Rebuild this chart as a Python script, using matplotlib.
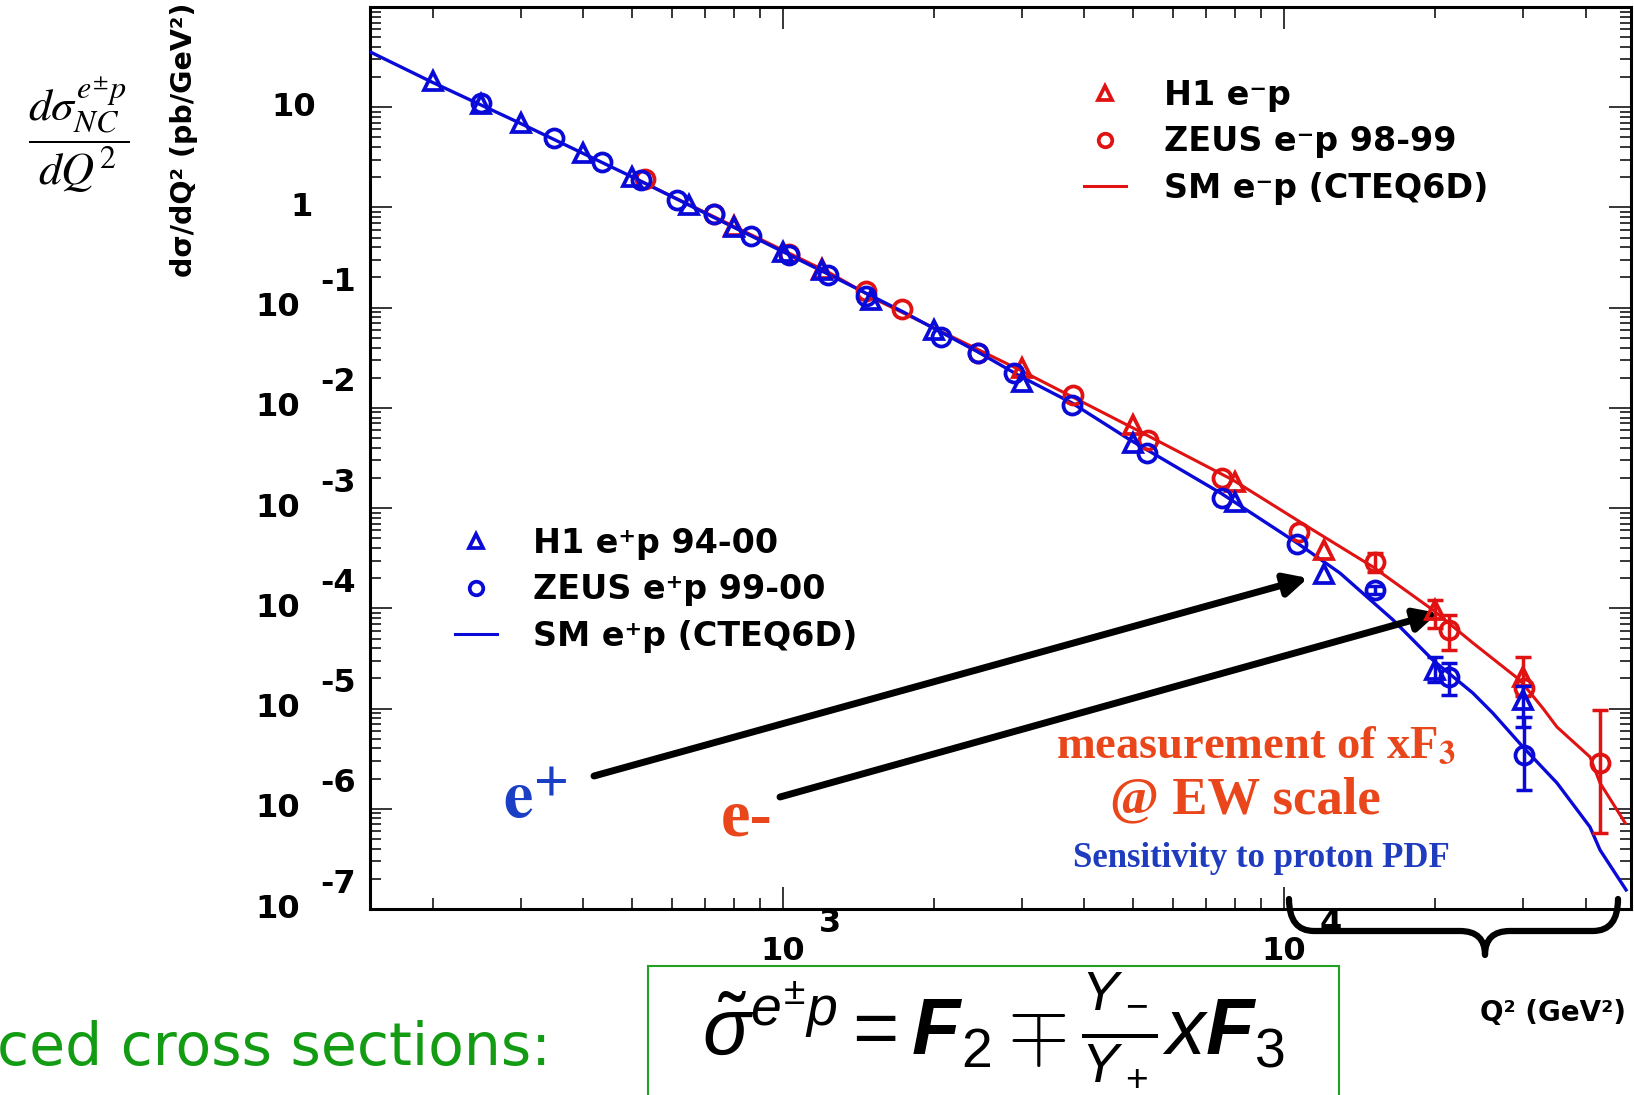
import numpy as np
import matplotlib
matplotlib.use('Agg')
import matplotlib.pyplot as plt
from matplotlib.path import Path
from matplotlib.patches import PathPatch, Rectangle
from matplotlib.ticker import LogLocator, NullFormatter

# ---- data (Q2 in GeV2, dsigma/dQ2 in pb/GeV2) ----
# SM e+p (CTEQ6D) curve
sm_pos_q = [150, 199, 298, 495, 795, 1241, 1738, 2450, 2972, 3776, 4930, 7520,
            10620, 12940, 16520, 19830, 23830, 26130, 30000, 35080, 40830, 42760, 48200]
sm_pos_s = [35.7, 17.9, 6.98, 2.07, 0.640, 0.212, 0.0908, 0.0362, 0.0208, 0.0112, 4.8e-3,
            1.39e-3, 4.50e-4, 2.25e-4, 7.66e-5, 3.05e-5, 1.43e-5, 9.0e-6, 4.14e-6, 1.81e-6,
            6.58e-7, 3.88e-7, 1.55e-7]
# SM e-p (CTEQ6D) curve
sm_neg_q = [495, 795, 1241, 1563, 2972, 5000, 7910, 11430, 15060, 19830, 23830, 29560,
            32870, 35080, 40830, 42760, 48000]
sm_neg_s = [2.07, 0.655, 0.222, 0.115, 0.0239, 6.3e-3, 1.91e-3, 6.05e-4, 2.59e-4, 9.64e-5,
            4.52e-5, 1.93e-5, 1.01e-5, 6.55e-6, 3.29e-6, 1.81e-6, 7.21e-7]

# H1 e+p 94-00
h1_pos_q = [200, 250, 300, 400, 500, 650, 800, 1000, 1200, 1500, 2000, 3000, 5000, 8000,
            12000, 20000, 30000]
h1_pos_s = [18.1, 10.8, 7.03, 3.53, 2.03, 1.06, 0.644, 0.363, 0.238, 0.120, 0.060, 0.0183,
            4.51e-3, 1.16e-3, 2.20e-4, 2.43e-5, 1.22e-5]
h1_pos_err_q = [20000, 30000]
h1_pos_err_lo = [1.86e-5, 6.6e-6]
h1_pos_err_hi = [3.30e-5, 1.66e-5]

# ZEUS e+p 99-00
zeus_pos_q = [250, 350, 435, 520, 615, 730, 865, 1030, 1230, 1465, 2070, 2455, 2900, 3770,
              5320, 7520, 10600, 15200, 21400, 30200]
zeus_pos_s = [11.1, 4.92, 2.81, 1.88, 1.18, 0.857, 0.516, 0.336, 0.212, 0.131, 0.0515, 0.0356,
              0.0225, 0.0107, 3.58e-3, 1.26e-3, 4.40e-4, 1.53e-4, 2.08e-5, 3.44e-6]
zeus_pos_err_q = [15200, 21400, 30200]
zeus_pos_err_lo = [1.39e-4, 1.37e-5, 1.54e-6]
zeus_pos_err_hi = [1.68e-4, 2.85e-5, 8.3e-6]

# H1 e-p
h1_neg_q = [800, 1200, 3000, 5000, 8000, 12000, 20000, 30000]
h1_neg_s = [0.66, 0.245, 0.0248, 6.76e-3, 1.84e-3, 3.83e-4, 9.64e-5, 2.08e-5]
h1_neg_err_q = [20000, 30000]
h1_neg_err_lo = [6.32e-5, 1.32e-5]
h1_neg_err_hi = [1.21e-4, 3.30e-5]

# ZEUS e-p 98-99
zeus_neg_q = [530, 730, 1030, 1465, 1730, 2455, 3800, 5360, 7520, 10700, 15200, 21400,
              30200, 42800]
zeus_neg_s = [1.92, 0.87, 0.345, 0.148, 0.0966, 0.0356, 0.0135, 4.80e-3, 1.99e-3, 5.82e-4,
              2.92e-4, 6.08e-5, 1.60e-5, 2.84e-6]
zeus_neg_err_q = [15200, 21400, 42800]
zeus_neg_err_lo = [2.32e-4, 3.85e-5, 5.7e-7]
zeus_neg_err_hi = [3.55e-4, 8.59e-5, 9.7e-6]

y_exponents = [1, 0, -1, -2, -3, -4, -5, -6, -7]
x_exponents = [3, 4]

BLUE = '#0a0ad8'
RED = '#e01212'
ORANGE = '#ea461c'
W, H = 1634, 1095


def fx(px):
    return px / W


def fy(py):
    return 1 - py / H


fig = plt.figure(figsize=(W / 100, H / 100), dpi=100)
ax = fig.add_axes([fx(370), fy(909), 1261 / W, 902 / H])
ax.set_xscale('log')
ax.set_yscale('log')
ax.set_xlim(150, 4.93e4)
ax.set_ylim(1e-7, 100)

# theory curves
ax.plot(sm_neg_q, sm_neg_s, color=RED, lw=2.2, zorder=2)
ax.plot(sm_pos_q, sm_pos_s, color=BLUE, lw=2.4, zorder=3)

mk = dict(ls='none', mfc='none', ms=13, mew=2.7)
eb = dict(fmt='none', elinewidth=2.5, capsize=6, capthick=2.5)


def errs(q_all, s_all, q_err, lo, hi):
    s = np.array([s_all[q_all.index(q)] for q in q_err])
    return [s - np.array(lo), np.array(hi) - s], s


# e- data (red) under e+ data (blue)
e, s = errs(h1_neg_q, h1_neg_s, h1_neg_err_q, h1_neg_err_lo, h1_neg_err_hi)
ax.errorbar(h1_neg_err_q, s, yerr=e, ecolor=RED, zorder=4, **eb)
e, s = errs(zeus_neg_q, zeus_neg_s, zeus_neg_err_q, zeus_neg_err_lo, zeus_neg_err_hi)
ax.errorbar(zeus_neg_err_q, s, yerr=e, ecolor=RED, zorder=4, **eb)
h_tri_r, = ax.plot(h1_neg_q, h1_neg_s, marker='^', mec=RED, zorder=4, **mk)
h_cir_r, = ax.plot(zeus_neg_q, zeus_neg_s, marker='o', mec=RED, zorder=4, **mk)

e, s = errs(h1_pos_q, h1_pos_s, h1_pos_err_q, h1_pos_err_lo, h1_pos_err_hi)
ax.errorbar(h1_pos_err_q, s, yerr=e, ecolor=BLUE, zorder=5, **eb)
e, s = errs(zeus_pos_q, zeus_pos_s, zeus_pos_err_q, zeus_pos_err_lo, zeus_pos_err_hi)
ax.errorbar(zeus_pos_err_q, s, yerr=e, ecolor=BLUE, zorder=5, **eb)
h_tri_b, = ax.plot(h1_pos_q, h1_pos_s, marker='^', mec=BLUE, zorder=5, **mk)
h_cir_b, = ax.plot(zeus_pos_q, zeus_pos_s, marker='o', mec=BLUE, zorder=5, **mk)

# ROOT style frame and ticks
for sp in ax.spines.values():
    sp.set_linewidth(2.2)
ax.xaxis.set_major_locator(LogLocator(base=10, numticks=20))
ax.xaxis.set_minor_locator(LogLocator(base=10, subs=np.arange(2, 10), numticks=20))
ax.yaxis.set_major_locator(LogLocator(base=10, numticks=20))
ax.yaxis.set_minor_locator(LogLocator(base=10, subs=np.arange(2, 10), numticks=20))
ax.xaxis.set_minor_formatter(NullFormatter())
ax.yaxis.set_minor_formatter(NullFormatter())
ax.tick_params(which='both', direction='in', top=True, right=True,
               labelbottom=False, labelleft=False, width=1.1)
ax.tick_params(which='major', length=16)
ax.tick_params(which='minor', length=8)

tickfont = dict(family='DejaVu Sans', fontweight='bold', fontsize=23)
ytr = ax.get_yaxis_transform()
for k in y_exponents:
    v = 10.0 ** k
    if k == 1:
        ax.annotate('10', xy=(0, v), xycoords=ytr, xytext=(-54, 0), textcoords='offset pixels',
                    ha='right', va='center', **tickfont)
    elif k == 0:
        ax.annotate('1', xy=(0, v), xycoords=ytr, xytext=(-57, 0), textcoords='offset pixels',
                    ha='right', va='center', **tickfont)
    else:
        ax.annotate('10', xy=(0, v), xycoords=ytr, xytext=(-70, 0), textcoords='offset pixels',
                    ha='right', va='center', **tickfont)
        ax.annotate(str(k), xy=(0, v), xycoords=ytr, xytext=(-50, 25), textcoords='offset pixels',
                    ha='left', va='center', **tickfont)
xtr = ax.get_xaxis_transform()
for k in x_exponents:
    v = 10.0 ** k
    ax.annotate('10', xy=(v, 0), xycoords=xtr, xytext=(0, -43), textcoords='offset pixels',
                ha='center', va='center', **tickfont)
    ax.annotate(str(k), xy=(v, 0), xycoords=xtr, xytext=(36, -14), textcoords='offset pixels',
                ha='left', va='center', **tickfont)

# axis titles
fig.text(fx(184), fy(140), 'dσ/dQ² (pb/GeV²)', rotation=90, ha='center', va='center',
         family='DejaVu Sans', fontweight='bold', fontsize=20.5)
fig.text(fx(1553), fy(1013), 'Q² (GeV²)', ha='center', va='center',
         family='DejaVu Sans', fontweight='bold', fontsize=20)
fig.text(fx(79), fy(135), r'$\dfrac{d\sigma^{e^{\pm}p}_{NC}}{dQ^2}$', ha='center', va='center',
         fontsize=33, math_fontfamily='stix')

# legends
legfont = dict(family='DejaVu Sans', weight='bold', size=24)
h_line_r = ax.plot([], [], color=RED, lw=2.2)[0]
h_line_b = ax.plot([], [], color=BLUE, lw=2.2)[0]
leg_r = ax.legend([h_tri_r, h_cir_r, h_line_r],
                  ['H1 e⁻p', 'ZEUS e⁻p 98-99', 'SM e⁻p (CTEQ6D)'],
                  loc='upper left', bbox_to_anchor=(fx(1084), fy(79)), bbox_transform=fig.transFigure,
                  frameon=False, prop=legfont, handlelength=1.25, handletextpad=1.15,
                  labelspacing=0.4, borderpad=0, borderaxespad=0, numpoints=1, markerscale=0.75)
ax.add_artist(leg_r)
ax.legend([h_tri_b, h_cir_b, h_line_b],
          ['H1 e⁺p 94-00', 'ZEUS e⁺p 99-00', 'SM e⁺p (CTEQ6D)'],
          loc='upper left', bbox_to_anchor=(fx(455), fy(527)), bbox_transform=fig.transFigure,
          frameon=False, prop=legfont, handlelength=1.25, handletextpad=1.1,
          labelspacing=0.4, borderpad=0, borderaxespad=0, numpoints=1, markerscale=0.75)

# arrows and slide annotations
arrow = dict(arrowstyle='-|>', lw=5, color='black', mutation_scale=34, shrinkA=0, shrinkB=0)
ax.annotate('', xy=(fx(1308), fy(578)), xycoords='figure fraction',
            xytext=(fx(594), fy(776)), textcoords='figure fraction', arrowprops=arrow)
ax.annotate('', xy=(fx(1438), fy(613)), xycoords='figure fraction',
            xytext=(fx(780), fy(797)), textcoords='figure fraction', arrowprops=arrow)

fig.text(fx(503), fy(818), r'$\mathbf{e}^{\mathbf{+}}$', color='#1a3fc4', fontsize=48,
         math_fontfamily='stix', ha='left', va='baseline')
fig.text(fx(721), fy(835), 'e-', color=ORANGE, fontsize=48, family='Liberation Serif',
         fontweight='bold', ha='left', va='baseline')
fig.text(fx(1256), fy(758), r'measurement of xF$_{\mathbf{3}}$', color=ORANGE, fontsize=33.5,
         family='Liberation Serif', fontweight='bold', math_fontfamily='stix',
         ha='center', va='baseline')
fig.text(fx(1245), fy(813), '@ EW scale', color=ORANGE, fontsize=38,
         family='Liberation Serif', fontweight='bold', ha='center', va='baseline')
fig.text(fx(1261), fy(867), 'Sensitivity to proton PDF', color='#1f3cbf', fontsize=25,
         family='Liberation Serif', fontweight='bold', ha='center', va='baseline')

# curly brace under the high Q2 region
verts = [(fx(1289), fy(899)),
         (fx(1289), fy(931)), (fx(1314), fy(931)),
         (fx(1460), fy(931)),
         (fx(1485), fy(931)), (fx(1485), fy(955)),
         (fx(1485), fy(931)), (fx(1510), fy(931)),
         (fx(1593), fy(931)),
         (fx(1618), fy(931)), (fx(1618), fy(899))]
codes = [Path.MOVETO, Path.CURVE3, Path.CURVE3, Path.LINETO, Path.CURVE3, Path.CURVE3,
         Path.CURVE3, Path.CURVE3, Path.LINETO, Path.CURVE3, Path.CURVE3]
fig.add_artist(PathPatch(Path(verts, codes), transform=fig.transFigure, fill=False,
                         lw=4.5, color='black', capstyle='round', joinstyle='round'))

# formula box and slide text
fig.add_artist(Rectangle((fx(648), -0.01), fx(1339) - fx(648), fy(966) + 0.01,
                         transform=fig.transFigure, fill=False, ec='#22a022', lw=1.5))
plt.rcParams['mathtext.fontset'] = 'custom'
plt.rcParams['mathtext.it'] = 'Liberation Sans:italic'
plt.rcParams['mathtext.rm'] = 'Liberation Sans'
plt.rcParams['mathtext.bf'] = 'Liberation Sans:bold:italic'
fig.text(fx(993), fy(1029), r'$\tilde{\sigma}^{e^{\pm}p} = \mathbf{F}_2 \mp \frac{Y_-}{Y_+}x\mathbf{F}_3$',
         fontsize=57, ha='center', va='center', math_fontfamily='custom')
fig.text(fx(-3), fy(1065), 'ced cross sections:', color='#139c13', fontsize=42,
         family='DejaVu Sans', ha='left', va='baseline')

fig.savefig('out.png', dpi=100)
